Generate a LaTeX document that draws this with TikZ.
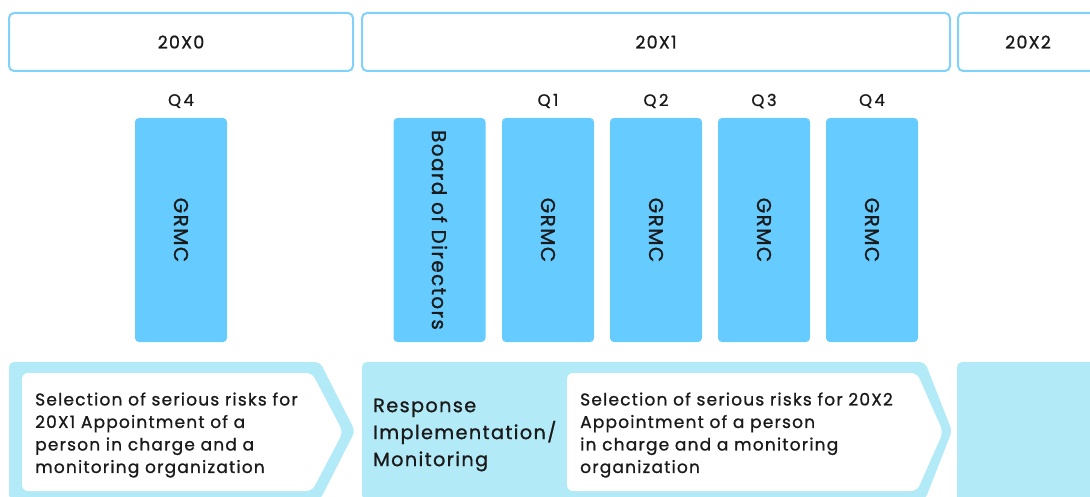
\documentclass[tikz,border=0pt]{standalone}
\usepackage{fontspec}
\setmainfont{Poppins}[LetterSpace=7, FakeBold=1]
\newfontfamily\qfont{Poppins}[LetterSpace=15, FakeBold=1]
\definecolor{framec}{HTML}{80D2FA}
\definecolor{barc}{HTML}{66CCFF}
\definecolor{bandc}{HTML}{B3EAF8}
\definecolor{txtc}{HTML}{1A1A1A}
\tikzset{
  yearbox/.style={draw=framec, line width=2pt, rounded corners=5pt, fill=white, text=txtc, font=\fontsize{17.5}{20}\selectfont},
  qlabel/.style={text=txtc, font=\qfont\fontsize{16.5}{18}\selectfont},
  barbox/.style={fill=barc, rounded corners=4pt, minimum width=92pt, minimum height=224pt, inner sep=0pt},
  bartext/.style={rotate=-90, text=txtc, font=\fontsize{20}{22}\selectfont},
  bandshape/.style={fill=bandc, rounded corners=5pt},
  whiteshape/.style={fill=white, rounded corners=6pt},
  smalltxt/.style={align=left, anchor=west, text=txtc, inner sep=0pt, font=\fontsize{17}{22.5}\selectfont},
  bigtxt/.style={align=left, anchor=west, text=txtc, inner sep=0pt, font=\fontsize{19.3}{27}\selectfont}
}
\begin{document}
\begin{tikzpicture}[x=1pt,y=-1pt]
\useasboundingbox (0,0) rectangle (1090,497);
\clip (0,0) rectangle (1090,497);
% year boxes
\node[yearbox, minimum width=344pt, minimum height=58pt] (y0) at (181,42) {20X0};
\node[yearbox, minimum width=588pt, minimum height=58pt] (y1) at (656,42) {20X1};
\node[yearbox, minimum width=140pt, minimum height=58pt] (y2) at (1028,42) {20X2};
% quarter labels
\node[qlabel] (q0) at (181,101) {Q4};
\node[qlabel] (q1) at (548,101) {Q1};
\node[qlabel] (q2) at (656,101) {Q2};
\node[qlabel] (q3) at (764,101) {Q3};
\node[qlabel] (q4) at (872,101) {Q4};
% bars
\node[barbox] (b0) at (181,230) {};
\node[barbox] (bd) at (439.5,230) {};
\node[barbox] (b1) at (548,230) {};
\node[barbox] (b2) at (656,230) {};
\node[barbox] (b3) at (764,230) {};
\node[barbox] (b4) at (872,230) {};
\node[bartext] (t0) at (b0) {GRMC};
\node[bartext] (td) at (bd) {Board of Directors};
\node[bartext] (t1) at (b1) {GRMC};
\node[bartext] (t2) at (b2) {GRMC};
\node[bartext] (t3) at (b3) {GRMC};
\node[bartext] (t4) at (b4) {GRMC};
% bottom band
\path[bandshape] (9,362) -- (320,362) -- (355,431) -- (320,500) -- (9,500) -- cycle;
\path[whiteshape] (22,373) -- (312,373) -- (343,432) -- (312,491) -- (22,491) -- cycle;
\path[bandshape] (362,362) -- (925,362) -- (952,431) -- (925,500) -- (362,500) -- cycle;
\path[whiteshape] (567,373) -- (917,373) -- (943,432) -- (917,491) -- (567,491) -- cycle;
\path[bandshape] (957,362) -- (1100,362) -- (1100,510) -- (957,510) -- cycle;
\node[smalltxt] (s1) at (35,435) {Selection of serious risks for\\20X1 Appointment of a\\person in charge and a\\monitoring organization};
\node[bigtxt] (r1) at (373,435) {Response\\Implementation/\\Monitoring};
\node[smalltxt] (s2) at (580,435) {Selection of serious risks for 20X2\\Appointment of a person\\in charge and a monitoring\\organization};
\end{tikzpicture}
\end{document}
